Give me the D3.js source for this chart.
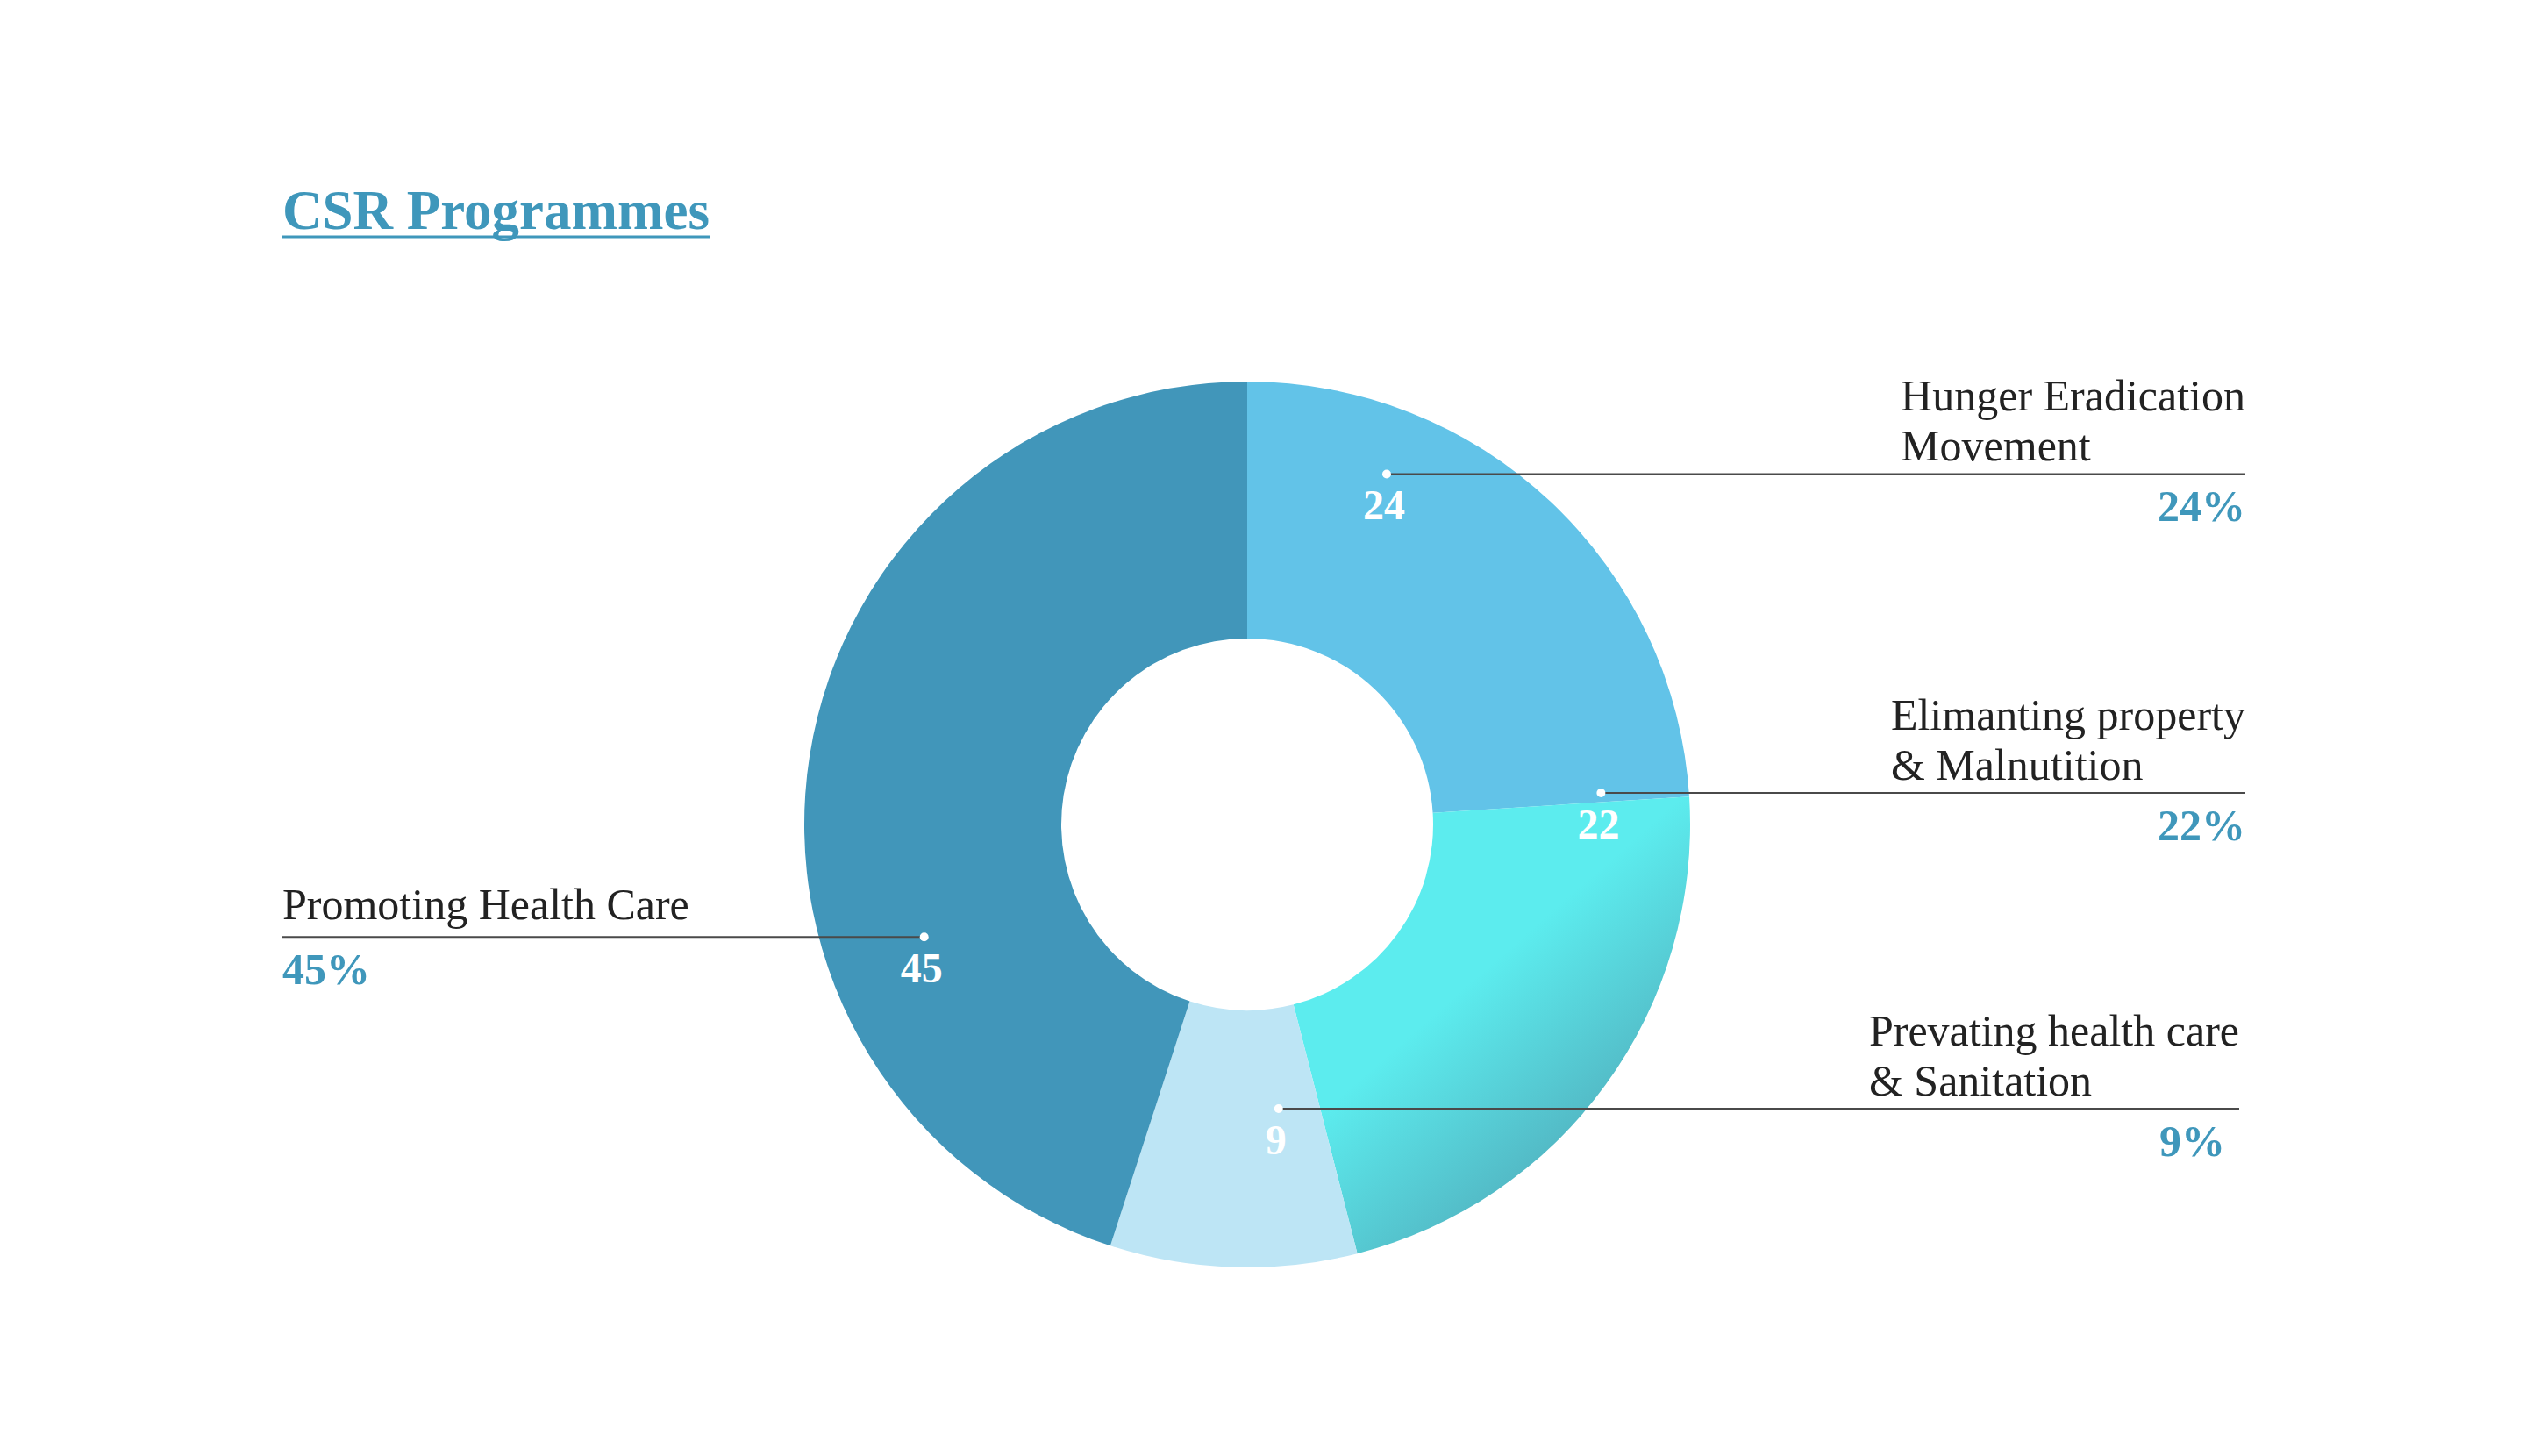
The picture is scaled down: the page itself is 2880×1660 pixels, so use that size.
<!DOCTYPE html>
<html>
<head>
<meta charset="utf-8">
<script src="https://cdn.jsdelivr.net/npm/d3@7"></script>
<style>
  body { margin: 0; background: #fff; }
  svg { display: block; }
</style>
</head>
<body>
<div id="chart"></div>
<script>
// Donnees du graphique
const categories = ["Hunger Eradication Movement", "Elimanting property & Malnutition", "Prevating health care & Sanitation", "Promoting Health Care"];
const labelLines = [["Hunger Eradication", "Movement"], ["Elimanting property", "& Malnutition"], ["Prevating health care", "& Sanitation"], ["Promoting Health Care"]];
const values = [24, 22, 9, 45];
const percentLabels = ["24%", "22%", "9%", "45%"];
const sliceColours = ["#62c3e8", "url(#grad22)", "#bde5f5", "#4196ba"];

// Position des etiquettes (placees a la main dans l'original)
const callouts = [
    { angle: 21.7, r: 430, side: "right", end: 2560, pctEnd: 2560 },
    { angle: 84.9, r: 405, side: "right", end: 2560, pctEnd: 2560 },
    { angle: 173.7, r: 326, side: "right", end: 2553, pctEnd: 2537 },
    { angle: 250.8, r: 390, side: "left", end: 322, pctEnd: 322 }
];

const width = 2880;
const height = 1660;
const cx = 1422, cy = 940;
const outerR = 505, innerR = 212;
const serif = "'Liberation Serif', 'Times New Roman', serif";
const accent = "#3f97bb";

const svg = d3.select("#chart")
    .append("svg")
    .attr("width", width)
    .attr("height", height)
    .style("background-color", "#fff");

// Degrade de la part 22 (coordonnees du groupe centre)
const grad = svg.append("defs").append("linearGradient")
    .attr("id", "grad22")
    .attr("gradientUnits", "userSpaceOnUse")
    .attr("x1", 200).attr("y1", 228)
    .attr("x2", 335).attr("y2", 382);
grad.append("stop").attr("offset", "0%").attr("stop-color", "#5cecee");
grad.append("stop").attr("offset", "100%").attr("stop-color", "#53bac6");

// Titre
const title = svg.append("text")
    .attr("x", 322)
    .attr("y", 261)
    .attr("font-family", serif)
    .attr("font-weight", "bold")
    .attr("font-size", 63)
    .attr("fill", accent)
    .text("CSR Programmes");
const tw = title.node().getComputedTextLength();
svg.append("line")
    .attr("x1", 322).attr("x2", 322 + tw)
    .attr("y1", 270).attr("y2", 270)
    .attr("stroke", accent)
    .attr("stroke-width", 3);

// Anneau
const pie = d3.pie().sort(null).value(d => d)(values);
const arc = d3.arc().innerRadius(innerR).outerRadius(outerR);

const g = svg.append("g").attr("transform", `translate(${cx},${cy})`);
g.selectAll("path")
    .data(pie)
    .enter()
    .append("path")
    .attr("d", arc)
    .attr("fill", (d, i) => sliceColours[i]);

// Etiquettes et traits
callouts.forEach((c, i) => {
    const [px, py] = d3.pointRadial(c.angle * Math.PI / 180, c.r);
    const dx = cx + px, dy = cy + py;

    svg.append("line")
        .attr("x1", dx).attr("x2", c.end)
        .attr("y1", dy).attr("y2", dy)
        .attr("stroke", "#4a4a4a")
        .attr("stroke-width", 2);

    svg.append("circle")
        .attr("cx", dx).attr("cy", dy)
        .attr("r", 5)
        .attr("fill", "#fff");

    svg.append("text")
        .attr("x", dx - 3)
        .attr("y", dy + 52)
        .attr("text-anchor", "middle")
        .attr("font-family", serif)
        .attr("font-weight", "bold")
        .attr("font-size", 48)
        .attr("fill", "#fff")
        .text(values[i]);

    const block = svg.append("text")
        .attr("font-family", serif)
        .attr("font-size", 50)
        .attr("fill", "#222");
    const nb = labelLines[i].length;
    labelLines[i].forEach((l, j) => {
        block.append("tspan")
            .attr("x", 0)
            .attr("y", dy - (c.side === "left" ? 20 : 15) - (nb - 1 - j) * 57)
            .text(l);
    });
    if (c.side === "right") {
        const bw = block.node().getBBox().width;
        block.selectAll("tspan").attr("x", c.end - bw);
    } else {
        block.selectAll("tspan").attr("x", c.end);
    }

    svg.append("text")
        .attr("x", c.pctEnd)
        .attr("y", dy + 54)
        .attr("text-anchor", c.side === "right" ? "end" : "start")
        .attr("font-family", serif)
        .attr("font-weight", "bold")
        .attr("font-size", 50)
        .attr("fill", accent)
        .text(percentLabels[i]);
});
</script>
</body>
</html>
